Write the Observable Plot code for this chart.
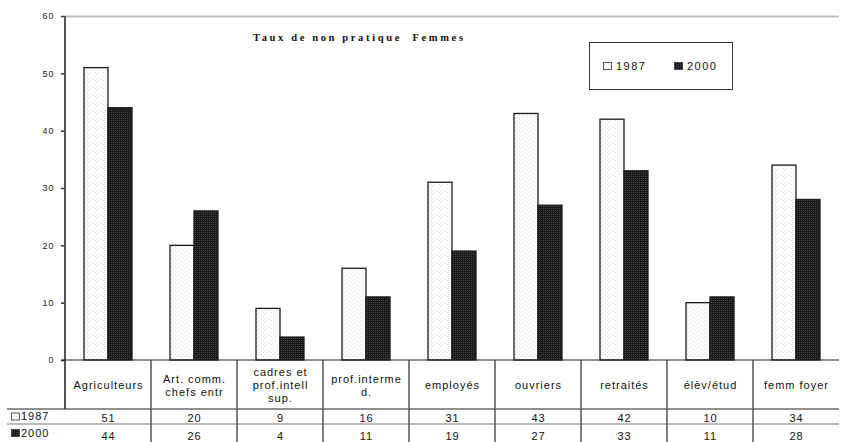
<!DOCTYPE html>
<html><head><meta charset="utf-8">
<script src="https://cdn.jsdelivr.net/npm/d3@7"></script>
<script src="https://cdn.jsdelivr.net/npm/@observablehq/plot@0.6"></script>
<style>html,body{margin:0;padding:0;background:#fff;} #chart svg{display:block}</style>
</head><body><div id="chart"></div>
<script>
const categories = ["Agriculteurs","Art. comm. chefs entr","cadres et prof.intell sup.","prof.interme d.","employés","ouvriers","retraités","élèv/étud","femm foyer"];
const categoryLabels = ["Agriculteurs","Art. comm.\nchefs entr","cadres et\nprof.intell\nsup.","prof.interme\nd.","employés","ouvriers","retraités","élèv/étud","femm foyer"];
const series = ["1987","2000"];
const values1987 = [51,20,9,16,31,43,42,10,34];
const values2000 = [44,26,4,11,19,27,33,11,28];
const yTicks = [0,10,20,30,40,50,60];
const title = "Taux de non pratique  Femmes";

const data = categories.flatMap((c,i)=>[
  {category:c, series:series[0], value:values1987[i]},
  {category:c, series:series[1], value:values2000[i]}
]);
const tableRows = categories.map((c,i)=>({category:c, label:categoryLabels[i], v1987:values1987[i], v2000:values2000[i]}));

const font = "'Liberation Sans', Arial, sans-serif";
const chart = Plot.plot({
  width:842, height:442, marginTop:16, marginRight:0, marginBottom:82, marginLeft:62,
  style:{fontFamily:font, background:"#fff", overflow:"visible"},
  fx:{domain:categories, padding:0, axis:null},
  x:{domain:series, paddingInner:0, paddingOuter:0.733, axis:null},
  y:{domain:[0,60], axis:null},
  color:{domain:series, range:["url(#pat1987)","url(#pat2000)"]},
  marks:[
    Plot.ruleY([60], {stroke:"#bdbdbd", strokeWidth:2}),
    Plot.barY(data, {fx:"category", x:"series", y:"value", fill:"series", stroke:"#1a1a1a", strokeWidth:1.3}),
    Plot.axisY({ticks:yTicks, label:null, tickSize:4, tickPadding:7, fontSize:9, stroke:"#333", strokeWidth:1.5, fill:"#222", tickFormat:d=>d}),
    Plot.text(tableRows, {fx:"category", text:"label", frameAnchor:"bottom", dy:24.5, lineAnchor:"middle", lineHeight:1.18, fontSize:11, fill:"#111"}),
    Plot.text(tableRows, {fx:"category", text:"v1987", frameAnchor:"bottom", dy:57.5, lineAnchor:"middle", fontSize:11, fill:"#111"}),
    Plot.text(tableRows, {fx:"category", text:"v2000", frameAnchor:"bottom", dy:75.5, lineAnchor:"middle", fontSize:11, fill:"#111"})
  ]
});
document.getElementById("chart").appendChild(chart);

const svg = d3.select(chart);
svg.selectAll("text").style("letter-spacing","1px");
const defs = svg.insert("defs", ":first-child");
const p1 = defs.append("pattern").attr("id","pat1987").attr("patternUnits","userSpaceOnUse").attr("width",4).attr("height",4);
p1.append("rect").attr("width",4).attr("height",4).attr("fill","#fdfdfd");
p1.append("rect").attr("x",0).attr("y",0).attr("width",1).attr("height",1).attr("fill","#dadada");
p1.append("rect").attr("x",2).attr("y",2).attr("width",1).attr("height",1).attr("fill","#dadada");
const p2 = defs.append("pattern").attr("id","pat2000").attr("patternUnits","userSpaceOnUse").attr("width",2).attr("height",2);
p2.append("rect").attr("width",2).attr("height",2).attr("fill","#181818");
p2.append("rect").attr("x",0).attr("y",0).attr("width",1).attr("height",1).attr("fill","#454545");

const fx = chart.scale("fx"), y = chart.scale("y");
const xStart = fx.apply(categories[0]);
const xEnd = fx.apply(categories[categories.length-1]) + fx.bandwidth;
const y0 = y.apply(0), yTop = y.apply(60);
const headerBottom = y0 + 49, row1Bottom = y0 + 64, tableBottom = 442, tableLeft = 7;

const g = svg.append("g").attr("fill","none");
g.append("line").attr("x1",xStart).attr("x2",xStart).attr("y1",yTop).attr("y2",headerBottom).attr("stroke","#555").attr("stroke-width",2);
g.append("line").attr("x1",xStart-4).attr("x2",xEnd).attr("y1",y0).attr("y2",y0).attr("stroke","#222").attr("stroke-width",1.2);
g.append("line").attr("x1",tableLeft).attr("x2",xEnd).attr("y1",headerBottom).attr("y2",headerBottom).attr("stroke","#222").attr("stroke-width",1.2);
g.append("line").attr("x1",tableLeft).attr("x2",xEnd).attr("y1",row1Bottom).attr("y2",row1Bottom).attr("stroke","#777").attr("stroke-width",1);
categories.slice(1).forEach(c=>{
  const xx = fx.apply(c);
  g.append("line").attr("x1",xx).attr("x2",xx).attr("y1",y0).attr("y2",tableBottom).attr("stroke","#555").attr("stroke-width",1.5);
});

// row labels of the data table
series.forEach((s,i)=>{
  const cy = i===0 ? (headerBottom+row1Bottom)/2 : row1Bottom + 9;
  svg.append("rect").attr("x",11.5).attr("y",cy-3.5).attr("width",8).attr("height",7)
    .attr("fill",`url(#pat${s})`).attr("stroke","#333").attr("stroke-width",0.8);
  svg.append("text").attr("x",21).attr("y",cy).attr("dy","0.36em").attr("text-anchor","start")
    .attr("font-family",font).attr("font-size",11).attr("fill","#111").style("letter-spacing","1px").text(s);
});

// legend box
const lg = svg.append("g");
lg.append("rect").attr("x",589.5).attr("y",42.5).attr("width",143).attr("height",47).attr("fill","#fff").attr("stroke","#333").attr("stroke-width",1);
series.forEach((s,i)=>{
  const lx = 603 + i*71;
  lg.append("rect").attr("x",lx+0.5).attr("y",62.5).attr("width",8).attr("height",7)
    .attr("fill",`url(#pat${s})`).attr("stroke","#333").attr("stroke-width",0.8);
  lg.append("text").attr("x",lx+13).attr("y",66).attr("dy","0.36em").attr("text-anchor","start")
    .attr("font-family",font).attr("font-size",11).attr("fill","#111").style("letter-spacing","1.5px").text(s);
});

// title
svg.append("text").attr("x",253).attr("y",41).attr("text-anchor","start").attr("font-family","'Liberation Serif','Times New Roman',serif")
  .attr("font-weight","bold").attr("font-size",10.5).attr("fill","#111")
  .attr("textLength",210).attr("lengthAdjust","spacing").style("white-space","pre").text(title);
</script>
</body></html>
